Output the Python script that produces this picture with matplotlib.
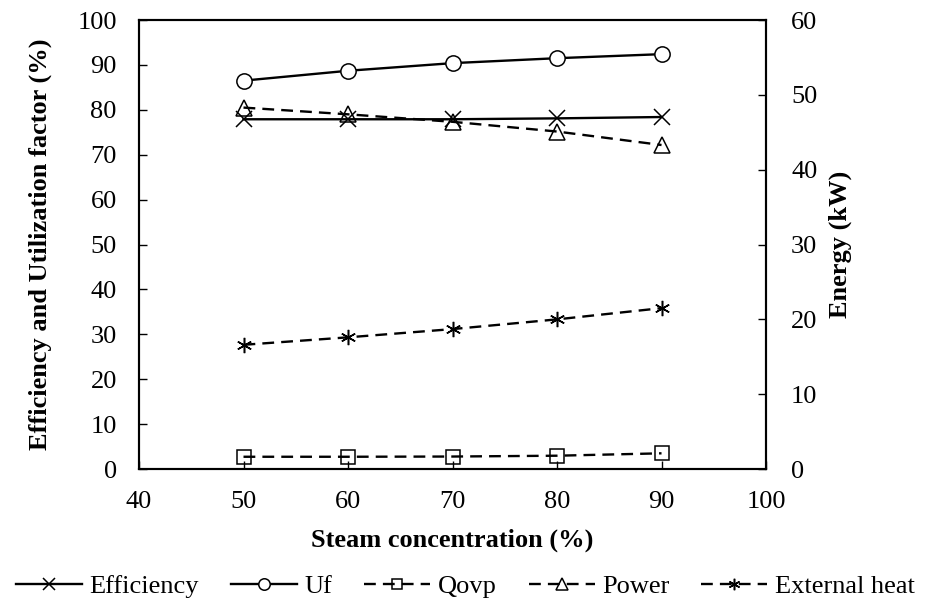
import numpy as np
import matplotlib
matplotlib.use('Agg')
import matplotlib.pyplot as plt

plt.rcParams['font.family'] = ['Liberation Serif', 'DejaVu Serif']

steam = [50, 60, 70, 80, 90]
efficiency = [77.9, 77.9, 77.9, 78.1, 78.4]
uf = [86.5, 88.7, 90.4, 91.5, 92.4]
# energy series on the right axis (kW)
qovp = [1.64, 1.64, 1.67, 1.78, 2.1]
power = [48.3, 47.4, 46.4, 45.1, 43.3]
ext_heat = [16.6, 17.6, 18.7, 20.0, 21.5]

fig = plt.figure(figsize=(9.31, 6.07), dpi=100)
ax = fig.add_axes([0.1493, 0.2273, 0.6735, 0.7397])
ax2 = ax.twinx()

dash = (0, (5, 3))
l1, = ax.plot(steam, efficiency, color='black', lw=1.7, marker='x', ms=11,
              mew=1.1, label='Efficiency')
l2, = ax.plot(steam, uf, color='black', lw=1.7, marker='o', ms=11,
              mfc='white', mew=1.1, label='Uf')
l3, = ax2.plot(steam, qovp, color='black', lw=1.7, ls=dash, marker='s',
               ms=10, mfc='none', mew=1.1, label='Qovp')
l4, = ax2.plot(steam, power, color='black', lw=1.7, ls=dash, marker='^',
               ms=11, mfc='none', mew=1.1, label='Power')
l5, = ax2.plot(steam, ext_heat, color='black', lw=1.7, ls=dash,
               marker=(6, 2, 0), ms=11, mew=1.1, label='External heat')

ax.set_xlim(40, 100)
ax.set_ylim(0, 100)
ax2.set_ylim(0, 60)
ax.set_xticks(np.arange(40, 101, 10))
ax.set_yticks(np.arange(0, 101, 10))
ax2.set_yticks(np.arange(0, 61, 10))

ax.tick_params(axis='both', direction='in', length=6, width=1, labelsize=19)
ax.tick_params(axis='x', pad=16)
ax.tick_params(axis='y', pad=16)
ax2.tick_params(axis='y', direction='in', length=6, width=1, labelsize=19,
                pad=18)

for a in (ax, ax2):
    for s in a.spines.values():
        s.set_linewidth(1.5)

ax.set_xlabel('Steam concentration (%)', fontsize=19, fontweight='bold',
              labelpad=11)
ax.set_ylabel('Efficiency and Utilization factor (%)', fontsize=19,
              fontweight='bold', labelpad=18)
ax2.set_ylabel('Energy (kW)', fontsize=19, fontweight='bold', labelpad=8)

fig.legend(handles=[l1, l2, l3, l4, l5], loc='lower center', ncol=5,
           frameon=False, fontsize=19, handlelength=2.5, markerscale=0.75,
           columnspacing=1.2, handletextpad=0.3, bbox_to_anchor=(0.5, -0.025))

fig.savefig('out.png', dpi=100)
